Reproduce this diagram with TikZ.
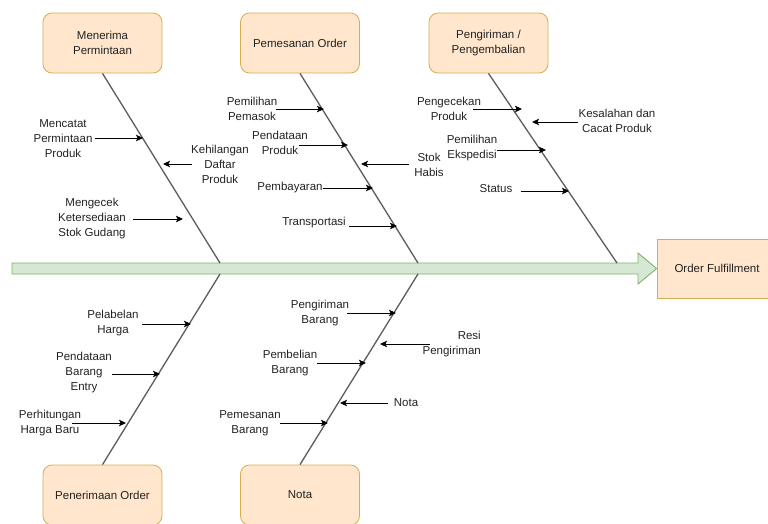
\documentclass[tikz,border=0pt]{standalone}
\usepackage{fontspec}
\setmainfont{Liberation Sans}
\usetikzlibrary{arrows.meta}
\definecolor{boxfill}{HTML}{FFE6CC}
\definecolor{boxdraw}{HTML}{D6AE52}
\definecolor{spinefill}{HTML}{D5E8D4}
\definecolor{spinedraw}{HTML}{82B366}
\definecolor{bonecol}{HTML}{5C5C5C}
\definecolor{txtcol}{HTML}{222222}
\newcommand\dgfont{\fontsize{11.5}{15}\selectfont}
\begin{document}
\begin{tikzpicture}[x=1pt,y=-1pt,
  box/.style={draw=boxdraw, fill=boxfill, rounded corners=9pt, minimum width=119pt, minimum height=60pt, align=center, line width=0.8pt, font=\dgfont, text=txtcol, inner sep=2pt},
  headbox/.style={draw=boxdraw, fill=boxfill, minimum width=120pt, minimum height=59pt, align=center, line width=0.8pt, font=\dgfont, text=txtcol},
  lbl/.style={align=center, font=\dgfont, text=txtcol, inner sep=0pt},
  bone/.style={draw=bonecol, line width=1.3pt},
  cause/.style={draw=black, line width=0.9pt, -{Stealth[length=7pt,width=6.5pt,inset=1.5pt]}},
  spine/.style={draw=spinedraw, fill=spinefill, line width=0.9pt}
]
\useasboundingbox (0,0) rectangle (768,523);
\clip (0,0) rectangle (768,523);

% boxes
\node[box] (b1) at (102.5,43) {Menerima\\Permintaan};
\node[box] (b2) at (300,43) {Pemesanan Order};
\node[box] (b3) at (488.5,43) {Pengiriman /\\Pengembalian};
\node[box] (b4) at (102.5,495) {Penerimaan Order};
\node[box] (b5) at (300,495) {Nota};
\node[headbox] (ef) at (717,268.5) {Order Fulfillment};

% spine
\coordinate (sp0) at (12,263);
\draw[spine] (sp0) -- (638,263) -- (638,253) -- (ef.west) -- (638,284) -- (638,274) -- (12,274) -- cycle;

% bones
\coordinate (j1t) at (220,263);
\coordinate (j2t) at (418,263);
\coordinate (j3t) at (617,263);
\coordinate (j1b) at (220,274);
\coordinate (j2b) at (418,274);
\draw[bone] (b1.south) -- (j1t);
\draw[bone] (b2.south) -- (j2t);
\draw[bone] (b3.south) -- (j3t);
\draw[bone] (j1b) -- (b4.north);
\draw[bone] (j2b) -- (b5.north);

% top bone 1
\node[lbl] (l1) at (63,138.5) {Mencatat\\Permintaan\\Produk};
\coordinate (s1) at (95,138); \coordinate (e1) at (143,138);
\draw[cause] (s1) -- (e1);
\node[lbl] (l2) at (220,164.5) {Kehilangan\\Daftar\\Produk};
\coordinate (s2) at (192,164); \coordinate (e2) at (163,164);
\draw[cause] (s2) -- (e2);
\node[lbl] (l3) at (92,218.5) {Mengecek\\Ketersediaan\\Stok Gudang};
\coordinate (s3) at (133,219); \coordinate (e3) at (183,219);
\draw[cause] (s3) -- (e3);

% top bone 2
\node[lbl] (l4) at (252,108.5) {Pemilihan\\Pemasok};
\coordinate (s4) at (276,109); \coordinate (e4) at (324,109);
\draw[cause] (s4) -- (e4);
\node[lbl] (l5) at (280,142.5) {Pendataan\\Produk};
\coordinate (s5) at (299,145); \coordinate (e5) at (348,145);
\draw[cause] (s5) -- (e5);
\node[lbl] (l6) at (429,164.5) {Stok\\Habis};
\coordinate (s6) at (409,164); \coordinate (e6) at (361,164);
\draw[cause] (s6) -- (e6);
\node[lbl] (l7) at (290,188) {Pembayaran};
\coordinate (s7) at (323,188); \coordinate (e7) at (373,188);
\draw[cause] (s7) -- (e7);
\node[lbl] (l8) at (314,223) {Transportasi};
\coordinate (s8) at (349,226); \coordinate (e8) at (397,226);
\draw[cause] (s8) -- (e8);

% top bone 3
\node[lbl] (l9) at (449,108.5) {Pengecekan\\Produk};
\coordinate (s9) at (473,109); \coordinate (e9) at (522,109);
\draw[cause] (s9) -- (e9);
\node[lbl] (l10) at (617,120.5) {Kesalahan dan\\Cacat Produk};
\coordinate (s10) at (578,122); \coordinate (e10) at (532,122);
\draw[cause] (s10) -- (e10);
\node[lbl] (l11) at (472,148) {Pemilihan\\Ekspedisi};
\coordinate (s11) at (497,150); \coordinate (e11) at (546,150);
\draw[cause] (s11) -- (e11);
\node[lbl] (l12) at (496,189) {Status};
\coordinate (s12) at (521,191); \coordinate (e12) at (569,191);
\draw[cause] (s12) -- (e12);

% bottom bone 1
\node[lbl] (l13) at (113,323.5) {Pelabelan\\Harga};
\coordinate (s13) at (142,324); \coordinate (e13) at (191,324);
\draw[cause] (s13) -- (e13);
\node[lbl] (l14) at (84,373) {Pendataan\\Barang\\Entry};
\coordinate (s14) at (112,374); \coordinate (e14) at (160,374);
\draw[cause] (s14) -- (e14);
\node[lbl] (l15) at (50,423.5) {Perhitungan\\Harga Baru};
\coordinate (s15) at (72,423); \coordinate (e15) at (126,423);
\draw[cause] (s15) -- (e15);

% bottom bone 2
\node[lbl] (l16) at (320,313.5) {Pengiriman\\Barang};
\coordinate (s16) at (347,313); \coordinate (e16) at (396,313);
\draw[cause] (s16) -- (e16);
\node[lbl, align=right, anchor=east] (l17) at (481,344) {Resi\\Pengiriman};
\coordinate (s17) at (430,344); \coordinate (e17) at (380,344);
\draw[cause] (s17) -- (e17);
\node[lbl] (l18) at (290,363.5) {Pembelian\\Barang};
\coordinate (s18) at (317,363); \coordinate (e18) at (366,363);
\draw[cause] (s18) -- (e18);
\node[lbl] (l19) at (406,403) {Nota};
\coordinate (s19) at (388,403); \coordinate (e19) at (340,403);
\draw[cause] (s19) -- (e19);
\node[lbl] (l20) at (250,423) {Pemesanan\\Barang};
\coordinate (s20) at (280,423); \coordinate (e20) at (328,423);
\draw[cause] (s20) -- (e20);
\end{tikzpicture}
\end{document}
